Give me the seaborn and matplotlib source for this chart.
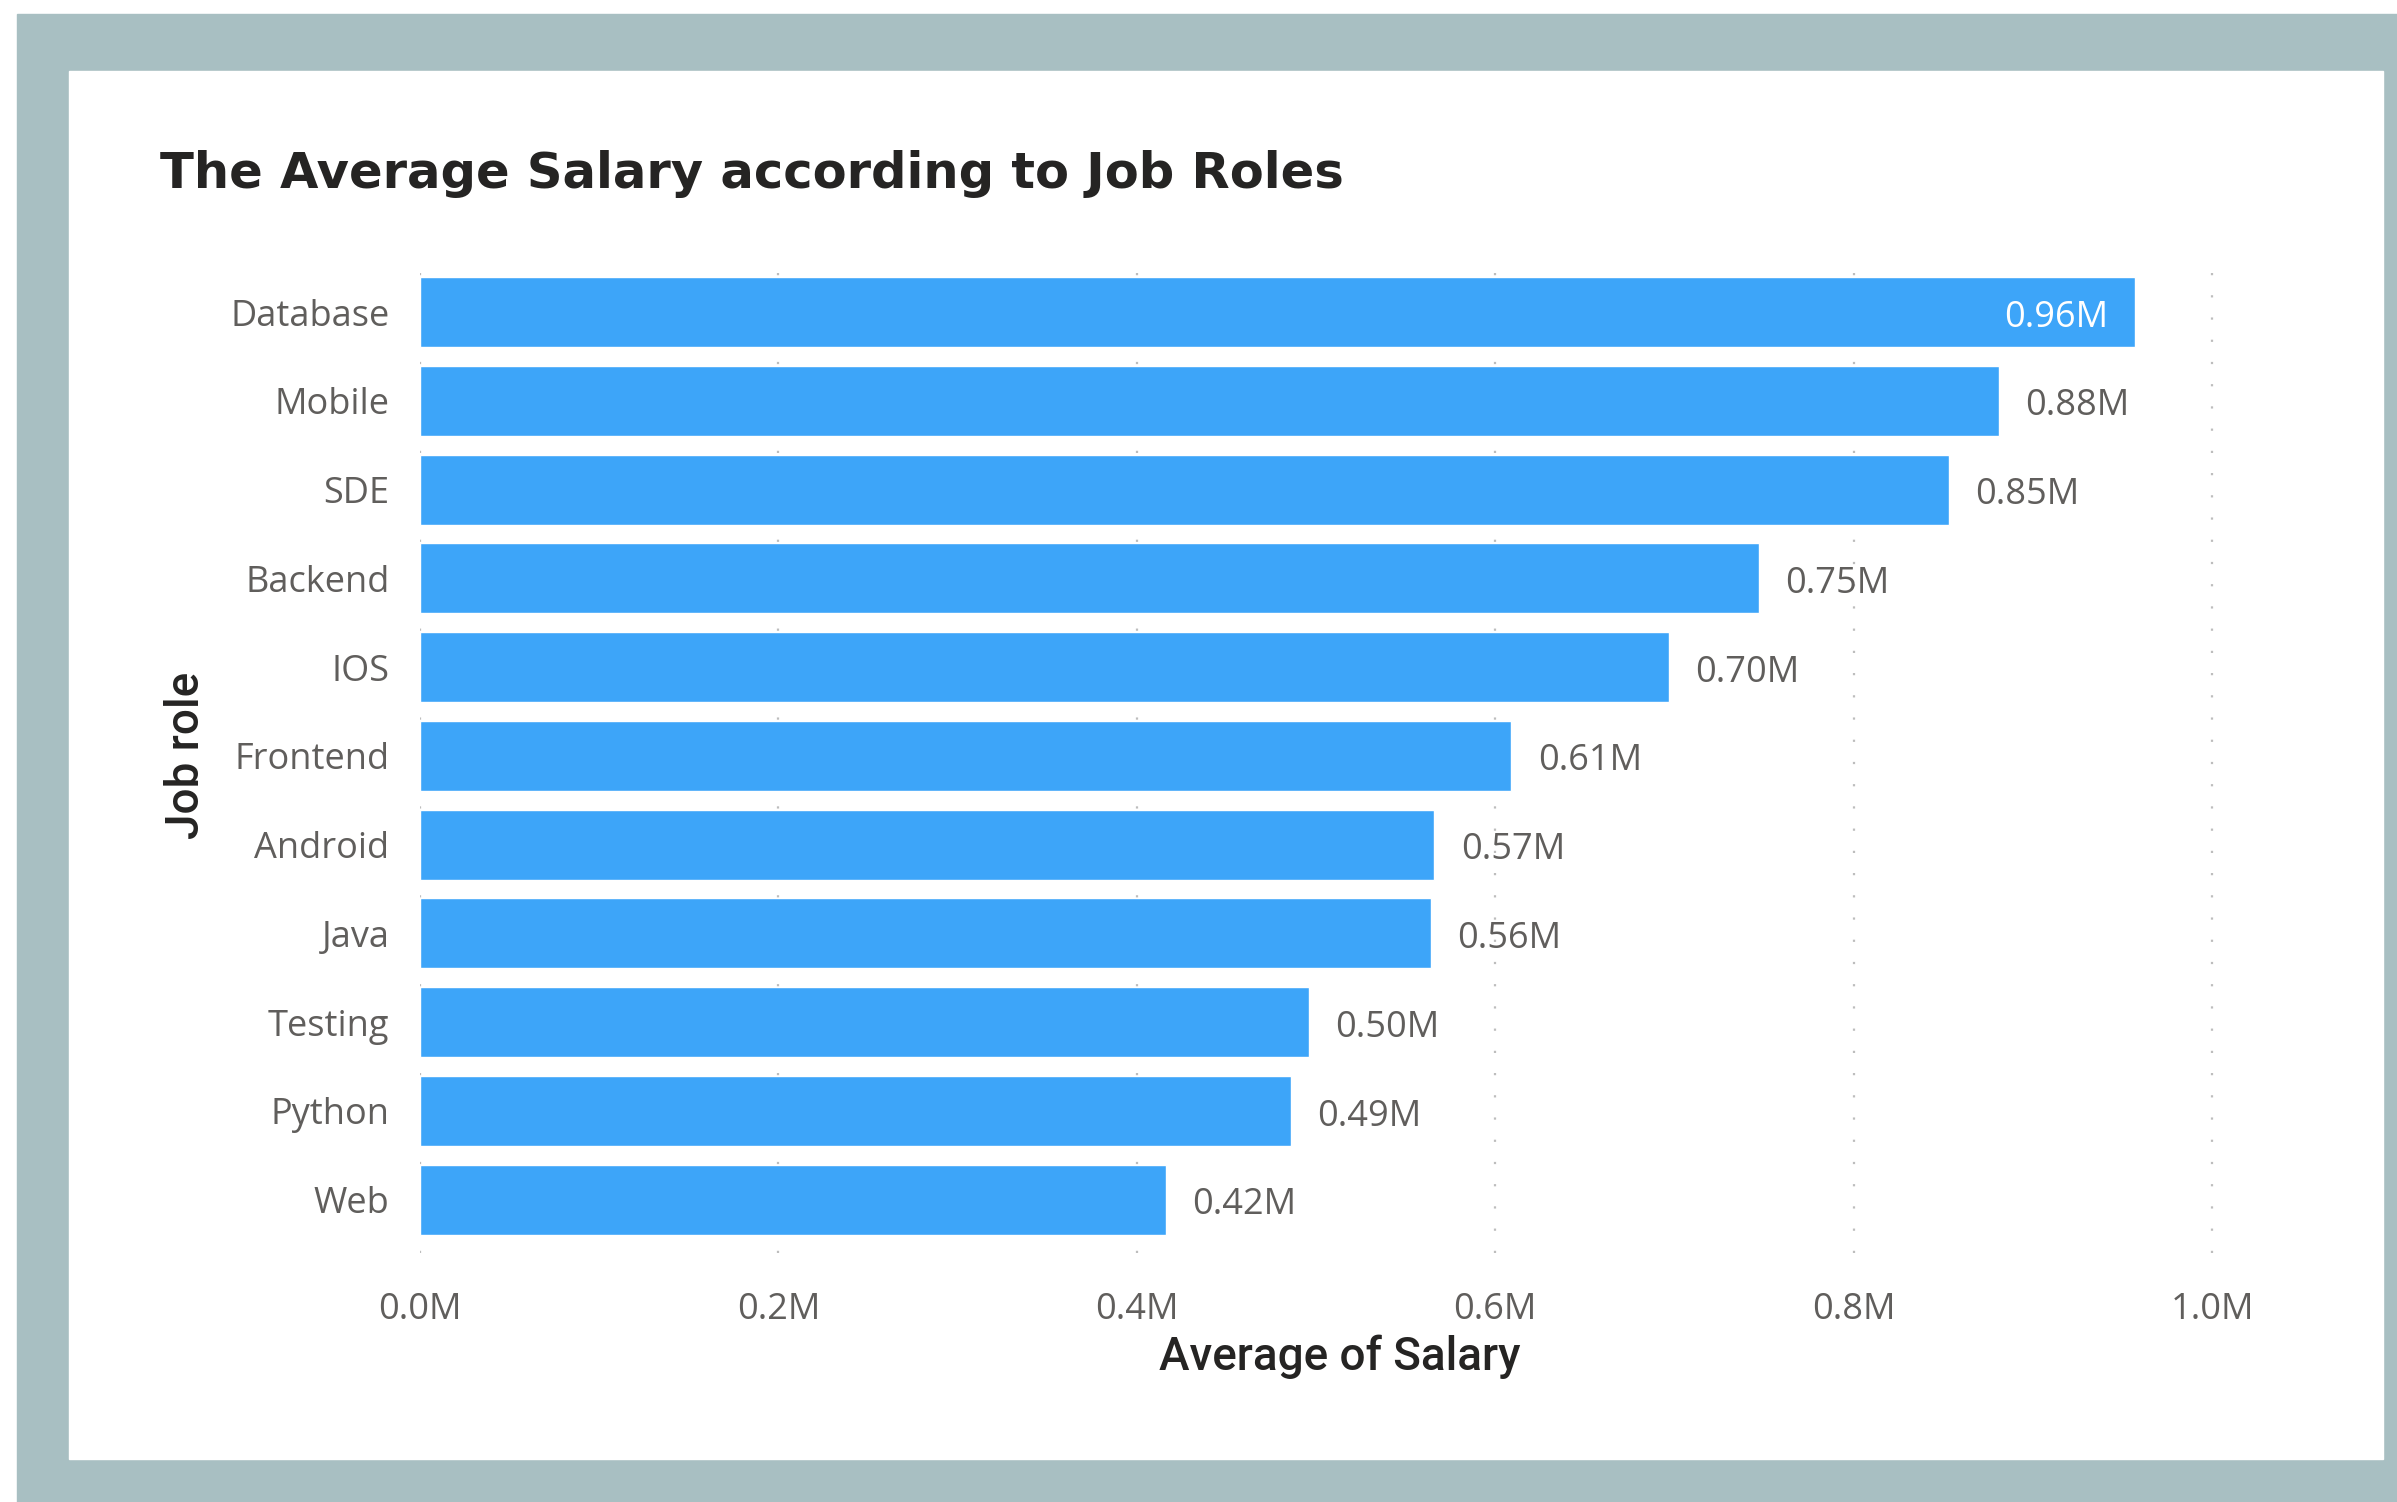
import seaborn as sns
import matplotlib.pyplot as plt
from matplotlib.patches import Rectangle
from matplotlib.ticker import FuncFormatter
import pandas as pd

# values (in millions)
roles = ['Database', 'Mobile', 'SDE', 'Backend', 'IOS', 'Frontend',
         'Android', 'Java', 'Testing', 'Python', 'Web']
salary = [0.957, 0.881, 0.853, 0.747, 0.697, 0.609,
          0.566, 0.564, 0.496, 0.486, 0.416]
xticks = [0.0, 0.2, 0.4, 0.6, 0.8, 1.0]

df = pd.DataFrame({'Job role': roles, 'Average of Salary': salary})

sns.set_style('white')
plt.rcParams['font.family'] = ['Open Sans', 'DejaVu Sans']

W, H = 2397, 1502
fig = plt.figure(figsize=(W / 100, H / 100), dpi=100)

# frame: grey-blue border with white card
fig.patches.append(Rectangle((17 / W, 0), 1 - 17 / W, 1 - 14 / H,
                             transform=fig.transFigure, color='#A8BFC2', zorder=-2))
fig.patches.append(Rectangle((69 / W, 1 - 1459 / H), (2383 - 69) / W, (1459 - 71) / H,
                             transform=fig.transFigure, color='white', zorder=-1))

ax = fig.add_axes([420 / W, 1 - 1253 / H, 1828 / W, 996 / H])
ax.set_facecolor('none')
ax.set_zorder(2)

sns.barplot(data=df, x='Average of Salary', y='Job role', orient='h',
            color='#3DA5F9', saturation=1, width=0.79, ax=ax, zorder=3)

ax.set_xlim(0, 1.02)
ax.set_ylim(10.6, -0.62)
ax.set_xticks(xticks)
ax.xaxis.set_major_formatter(FuncFormatter(lambda v, p: f'{v:.1f}M'))
ax.grid(axis='x', linestyle=(0, (1, 9)), color='#BDBDBD', linewidth=1.6, zorder=0)
ax.grid(axis='y', visible=False)
sns.despine(ax=ax, left=True, bottom=True)
ax.tick_params(axis='both', length=0, labelsize=26, labelcolor='#605E5C')
ax.tick_params(axis='x', pad=28)
ax.tick_params(axis='y', pad=22)

for i, v in enumerate(salary):
    if i == 0:
        ax.annotate(f'{v:.2f}M', (v, i), xytext=(-19, -4), textcoords='offset points',
                    ha='right', va='center', fontsize=26, color='white')
    else:
        ax.annotate(f'{v:.2f}M', (v, i), xytext=(19, -4), textcoords='offset points',
                    ha='left', va='center', fontsize=26, color='#605E5C')

ax.set_xlabel('Average of Salary', fontsize=33, color='#252423', fontweight='medium',
              family=['Roboto', 'DejaVu Sans'], va='center')
ax.xaxis.set_label_coords(0.503, -0.1044)
ax.set_ylabel('Job role', fontsize=33, color='#252423', fontweight='medium',
              family=['Roboto', 'DejaVu Sans'], va='center', ha='center')
ax.yaxis.set_label_coords(-0.128, 0.5)

fig.text(160 / W, 1 - 174 / H, 'The Average Salary according to Job Roles',
         fontsize=35.7, fontweight='bold', color='#252423', va='center',
         family=['DejaVu Sans'])

fig.savefig('out.png', dpi=100)
